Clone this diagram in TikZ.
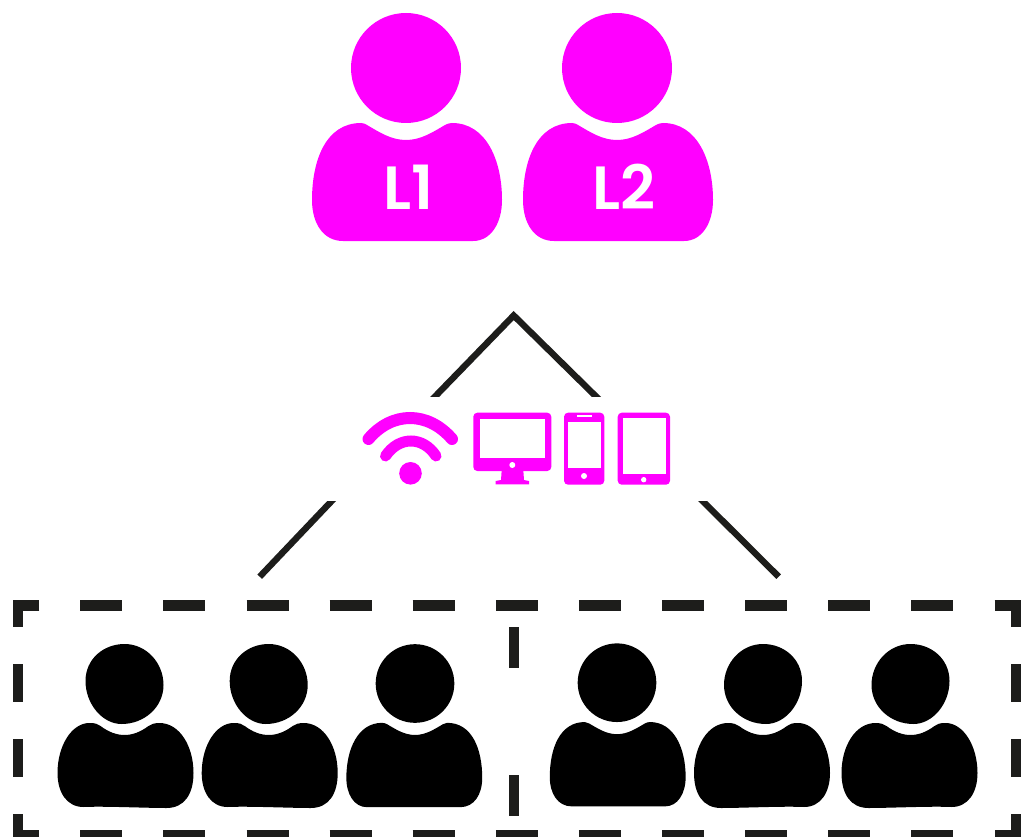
\documentclass[tikz,border=0pt]{standalone}
\usepackage{xcolor}
\usepackage{fontspec}
\newfontfamily\labelfont{Poppins SemiBold}
\usetikzlibrary{positioning}
\definecolor{pinkish}{RGB}{255,0,255}
\definecolor{darkline}{RGB}{29,29,27}
\tikzset{
  person/.pic={
    \fill (0,0) circle (55);
    \fill (-63,173) .. controls (-83,173) and (-94,155) .. (-94,132)
      .. controls (-94,92) and (-80,55) .. (-45,55)
      .. controls (-42,55) and (-41,56) .. (-39,57)
      .. controls (-27,64) and (-15,72) .. (0,72)
      .. controls (15,72) and (27,64) .. (39,57)
      .. controls (41,56) and (43,55) .. (46,55)
      .. controls (80,55) and (96,92) .. (96,132)
      .. controls (96,155) and (85,173) .. (67,173) -- cycle;
  },
  crowdperson/.pic={
    \fill (0,-40) .. controls (-21,-40) and (-39,-25) .. (-39,-3)
      .. controls (-39,20) and (-22,40) .. (-3,40)
      .. controls (20,40) and (39,23) .. (39,1)
      .. controls (39,-21) and (22,-40) .. (0,-40) -- cycle;
    \fill (-41,123) .. controls (-58,123) and (-67,108) .. (-67,89)
      .. controls (-67,62) and (-53,39) .. (-35,39)
      .. controls (-29,39) and (-27,40) .. (-24,42)
      .. controls (-16,48) and (-8,51) .. (0,51)
      .. controls (8,51) and (16,48) .. (24,42)
      .. controls (27,40) and (30,39) .. (35,39)
      .. controls (55,39) and (69,62) .. (69,89)
      .. controls (69,110) and (60,124) .. (42,124)
      .. controls (20,124) and (-20,122) .. (-41,123) -- cycle;
  },
  personlabel/.style={text=white,inner sep=0pt,font=\fontsize{61}{61}\labelfont},
  linkline/.style={darkline,line width=6.4pt},
  dashbar/.style={darkline,line width=10.7pt},
}
\begin{document}
\begin{tikzpicture}[x=1pt,y=-1pt]
  \useasboundingbox (0,0) rectangle (1022,837);
  \clip (0,0) rectangle (1022,837);
  % leaders
  \pic[pinkish] at (406,68) {person};
  \pic[pinkish] at (617,68) {person};
  \node[personlabel] (l1) at (409,187) {L1};
  \node[personlabel] (l2) at (623.5,187) {L2};
  % lines
  \coordinate (apex) at (513.7,315.5);
  \coordinate (topl) at (431,400.7);
  \coordinate (topr) at (600.3,400.7);
  \coordinate (lowl) at (335.75,496.7);
  \coordinate (endl) at (259.7,576.7);
  \coordinate (lowr) at (698.3,496.7);
  \coordinate (endr) at (778.7,576.7);
  \begin{scope}
    \clip (400,300) rectangle (630,396.7);
    \draw[linkline] (topl) -- (apex) -- (topr);
  \end{scope}
  \begin{scope}
    \clip (240,501.7) rectangle (800,590);
    \draw[linkline] (lowl) -- (endl);
    \draw[linkline] (lowr) -- (endr);
  \end{scope}
  % devices
  \fill[pinkish] (410.5,473.3) circle (11.3);
  \draw[pinkish,line width=12pt,line cap=round] (368.5,439) .. controls (392,411) and (428,411) .. (452,439);
  \draw[pinkish,line width=11pt,line cap=round] (385.5,456) .. controls (399,436) and (423,436) .. (436,456);
  \fill[pinkish,rounded corners=4] (473.3,412.7) rectangle (551.3,471);
  \fill[white] (480,419) rectangle (545,458.3);
  \fill[white] (512.3,465) circle (3);
  \fill[pinkish] (501.7,470) -- (523.3,470) -- (524,480) -- (529,481) -- (529,484.3) -- (495.7,484.3) -- (495.7,481) -- (501,480) -- cycle;
  \fill[pinkish,rounded corners=4] (564,412.7) rectangle (604.3,484.7);
  \fill[white] (567.7,421.7) rectangle (600.7,468);
  \fill[white] (576.7,415) rectangle (591.7,417.3);
  \fill[white] (584,476) circle (3);
  \fill[pinkish,rounded corners=4] (617.7,412.7) rectangle (670,484.7);
  \fill[white] (622.7,418.3) rectangle (665.7,474);
  \fill[white] (643.7,479.7) circle (2.7);
  % group
  \pic[black] at (124.5,684) {crowdperson};
  \pic[black] at (268.7,684) {crowdperson};
  \pic[black,xscale=-0.715,yscale=0.715] at (415,683.5) {person};
  \pic[black,scale=0.715] at (617,682.7) {person};
  \pic[black,xscale=-1] at (763,684) {crowdperson};
  \pic[black,xscale=-1] at (910.5,684) {crowdperson};
  % dashed box
  \foreach \i in {0,...,10}{
    \draw[dashbar] (80.3+83.1*\i,605.3) -- ++(42,0);
    \draw[dashbar] (80.3+83.1*\i,835.5) -- ++(42,0);
  }
  \foreach \y in {664,739}{
    \draw[dashbar] (18,\y) -- ++(0,37.7);
    \draw[dashbar] (1016,\y) -- ++(0,37.7);
  }
  \draw[dashbar] (39.3,605.3) -- (18,605.3) -- (18,626.7);
  \draw[dashbar] (994.7,605.3) -- (1016,605.3) -- (1016,626.7);
  \draw[dashbar] (18,814) -- (18,835.5) -- (39.3,835.5);
  \draw[dashbar] (1016,814) -- (1016,835.5) -- (994.7,835.5);
  \draw[dashbar] (514,627.3) -- (514,667.7);
  \draw[dashbar] (514,775) -- (514,815.7);
\end{tikzpicture}
\end{document}
